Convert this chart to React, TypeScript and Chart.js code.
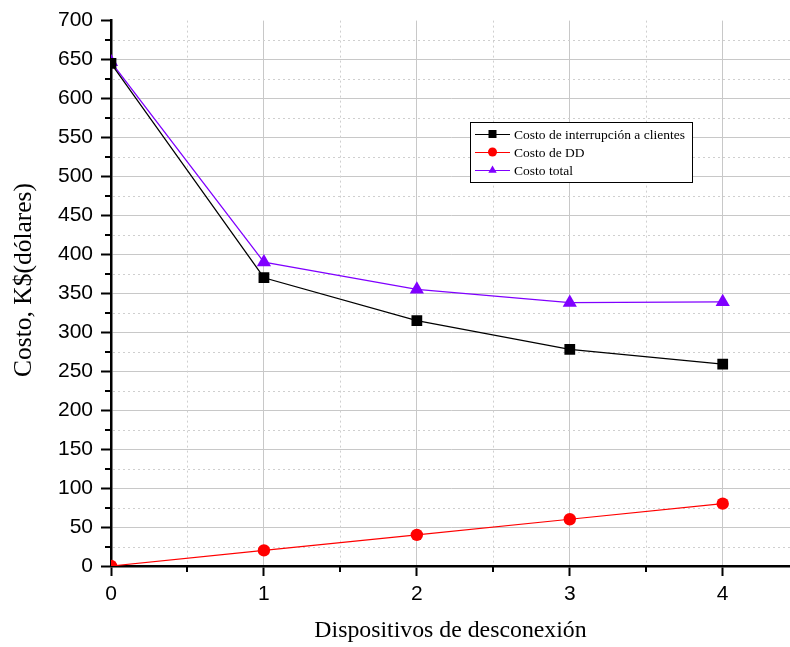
import React, { useEffect, useRef } from "react";
import { Chart, registerables } from "chart.js";

Chart.register(...registerables);

const xValues = [0, 1, 2, 3, 4];
const interrupcion = [645, 370, 315, 278, 259];
const costoDD = [0, 20, 40, 60, 80];
const costoTotal = [647, 390, 355, 338, 339];
const seriesLabels = [
  "Costo de interrupción a clientes",
  "Costo de DD",
  "Costo total",
];
const seriesColors = ["#000000", "#ff0000", "#8000ff"];
const seriesShapes = ["rect", "circle", "triangle"];
const xTicks = [0, 1, 2, 3, 4];
const yMin = 0;
const yMax = 700;
const yStep = 50;
const xMin = 0;
const xMax = 4.44;
const xTitle = "Dispositivos de desconexión";
const yTitle = "Costo, K$(dólares)";

const SANS = '"Liberation Sans", Arial, sans-serif';
const SERIF = '"Liberation Serif", "Times New Roman", serif';

function drawMarker(ctx: CanvasRenderingContext2D, shape: string, x: number, y: number, r: number, color: string) {
  ctx.fillStyle = color;
  ctx.beginPath();
  if (shape === "rect") {
    ctx.rect(x - r, y - r, 2 * r, 2 * r);
  } else if (shape === "circle") {
    ctx.arc(x, y, r, 0, Math.PI * 2);
  } else {
    ctx.moveTo(x, y - r * 1.1);
    ctx.lineTo(x + r * 1.05, y + r * 0.7);
    ctx.lineTo(x - r * 1.05, y + r * 0.7);
    ctx.closePath();
  }
  ctx.fill();
}

const extrasPlugin = {
  id: "extras",
  beforeDatasetsDraw(chart: any) {
    const { ctx, chartArea, scales } = chart;
    const x = scales.x;
    const y = scales.y;
    ctx.save();
    ctx.strokeStyle = "#cfcfcf";
    ctx.lineWidth = 1;
    ctx.setLineDash([2, 3]);
    for (let v = yMin + yStep / 2; v < yMax; v += yStep) {
      const py = Math.round(y.getPixelForValue(v)) + 0.5;
      ctx.beginPath();
      ctx.moveTo(chartArea.left + 2, py);
      ctx.lineTo(chartArea.right, py);
      ctx.stroke();
    }
    for (let v = xMin + 0.5; v < xMax; v += 1) {
      const px = Math.round(x.getPixelForValue(v)) + 0.5;
      ctx.beginPath();
      ctx.moveTo(px, chartArea.top);
      ctx.lineTo(px, chartArea.bottom - 2);
      ctx.stroke();
    }
    ctx.restore();
  },
  afterDraw(chart: any) {
    const { ctx, chartArea, scales } = chart;
    const x = scales.x;
    const y = scales.y;
    ctx.save();
    // minor ticks
    ctx.strokeStyle = "#000";
    ctx.lineWidth = 2;
    for (let v = yMin + yStep / 2; v < yMax; v += yStep) {
      const py = Math.round(y.getPixelForValue(v));
      ctx.beginPath();
      ctx.moveTo(chartArea.left - 6, py);
      ctx.lineTo(chartArea.left, py);
      ctx.stroke();
    }
    for (let v = xMin + 0.5; v < xMax; v += 1) {
      const px = Math.round(x.getPixelForValue(v));
      ctx.beginPath();
      ctx.moveTo(px, chartArea.bottom);
      ctx.lineTo(px, chartArea.bottom + 6);
      ctx.stroke();
    }
    // y title
    ctx.fillStyle = "#000";
    ctx.font = `25.5px ${SERIF}`;
    ctx.textAlign = "center";
    ctx.textBaseline = "middle";
    ctx.translate(24, 280);
    ctx.rotate(-Math.PI / 2);
    ctx.fillText(yTitle, 0, 0);
    ctx.restore();

    // legend
    ctx.save();
    const bx = 470.5, by = 122.5, bw = 222, bh = 60;
    ctx.fillStyle = "#fff";
    ctx.fillRect(bx, by, bw, bh);
    ctx.strokeStyle = "#000";
    ctx.lineWidth = 1;
    ctx.strokeRect(bx, by, bw, bh);
    ctx.font = `13.5px ${SERIF}`;
    ctx.textAlign = "left";
    ctx.textBaseline = "middle";
    const rows = [134, 152, 170];
    chart.data.datasets.forEach((ds: any, i: number) => {
      const ry = rows[i];
      ctx.strokeStyle = ds.borderColor;
      ctx.lineWidth = 1;
      ctx.beginPath();
      ctx.moveTo(475, ry + 0.5);
      ctx.lineTo(510, ry + 0.5);
      ctx.stroke();
      drawMarker(ctx, seriesShapes[i], 492.5, ry, i === 1 ? 4.5 : 4, ds.borderColor);
      ctx.fillStyle = "#000";
      ctx.fillText(ds.label, 514, ry + 1);
    });
    ctx.restore();
  },
};

export default function App() {
  const ref = useRef<HTMLCanvasElement | null>(null);
  useEffect(() => {
    if (!ref.current) return;
    const series = [interrupcion, costoDD, costoTotal];
    const radii = [7.6, 6.2, 8.2];
    const chart = new Chart(ref.current, {
      type: "line",
      data: {
        datasets: series.map((vals, i) => ({
          label: seriesLabels[i],
          data: xValues.map((xv, j) => ({ x: xv, y: vals[j] })),
          borderColor: seriesColors[i],
          backgroundColor: seriesColors[i],
          borderWidth: 1.2,
          pointStyle: seriesShapes[i] as any,
          pointRadius: radii[i],
          pointBorderWidth: 0,
          pointBackgroundColor: seriesColors[i],
          tension: 0,
          clip: 0,
        })),
      },
      options: {
        animation: false,
        responsive: false,
        devicePixelRatio: 1,
        layout: { autoPadding: false, padding: { top: 18, right: 0, left: 0, bottom: 0 } },
        plugins: {
          legend: { display: false },
          tooltip: { enabled: false },
        },
        scales: {
          x: {
            type: "linear",
            min: xMin,
            max: xMax,
            afterBuildTicks: (s: any) => {
              s.ticks = xTicks.map((v) => ({ value: v }));
            },
            afterFit: (s: any) => {
              s.height = 81;
              s.paddingLeft = 0;
              s.paddingRight = 0;
            },
            ticks: {
              color: "#000",
              font: { family: SANS, size: 21 },
              padding: 6,
              maxRotation: 0,
              callback: (v: any) => String(v),
            },
            grid: {
              color: "#c8c8c8",
              lineWidth: 1,
              tickColor: "#000",
              tickLength: 10,
              tickWidth: 2,
            },
            border: { color: "#000", width: 2.5 },
            title: {
              display: true,
              text: xTitle,
              color: "#000",
              font: { family: SERIF, size: 23.8 },
              padding: { top: 0, bottom: 2 },
            },
          },
          y: {
            type: "linear",
            min: yMin,
            max: yMax,
            afterFit: (s: any) => {
              s.width = 111;
            },
            ticks: {
              stepSize: yStep,
              color: "#000",
              font: { family: SANS, size: 21 },
              padding: 8,
            },
            grid: {
              color: (c: any) => (c.tick && c.tick.value === yMax ? "rgba(0,0,0,0)" : "#c8c8c8"),
              lineWidth: 1,
              tickColor: "#000",
              tickLength: 10,
              tickWidth: 2,
            },
            border: { color: "#000", width: 2.5 },
          },
        },
      },
      plugins: [extrasPlugin],
    });
    return () => chart.destroy();
  }, []);
  return (
    <div style={{ position: "absolute", left: 0, top: 0, width: 790, height: 647, background: "#fff" }}>
      <canvas ref={ref} width={790} height={647} />
    </div>
  );
}
